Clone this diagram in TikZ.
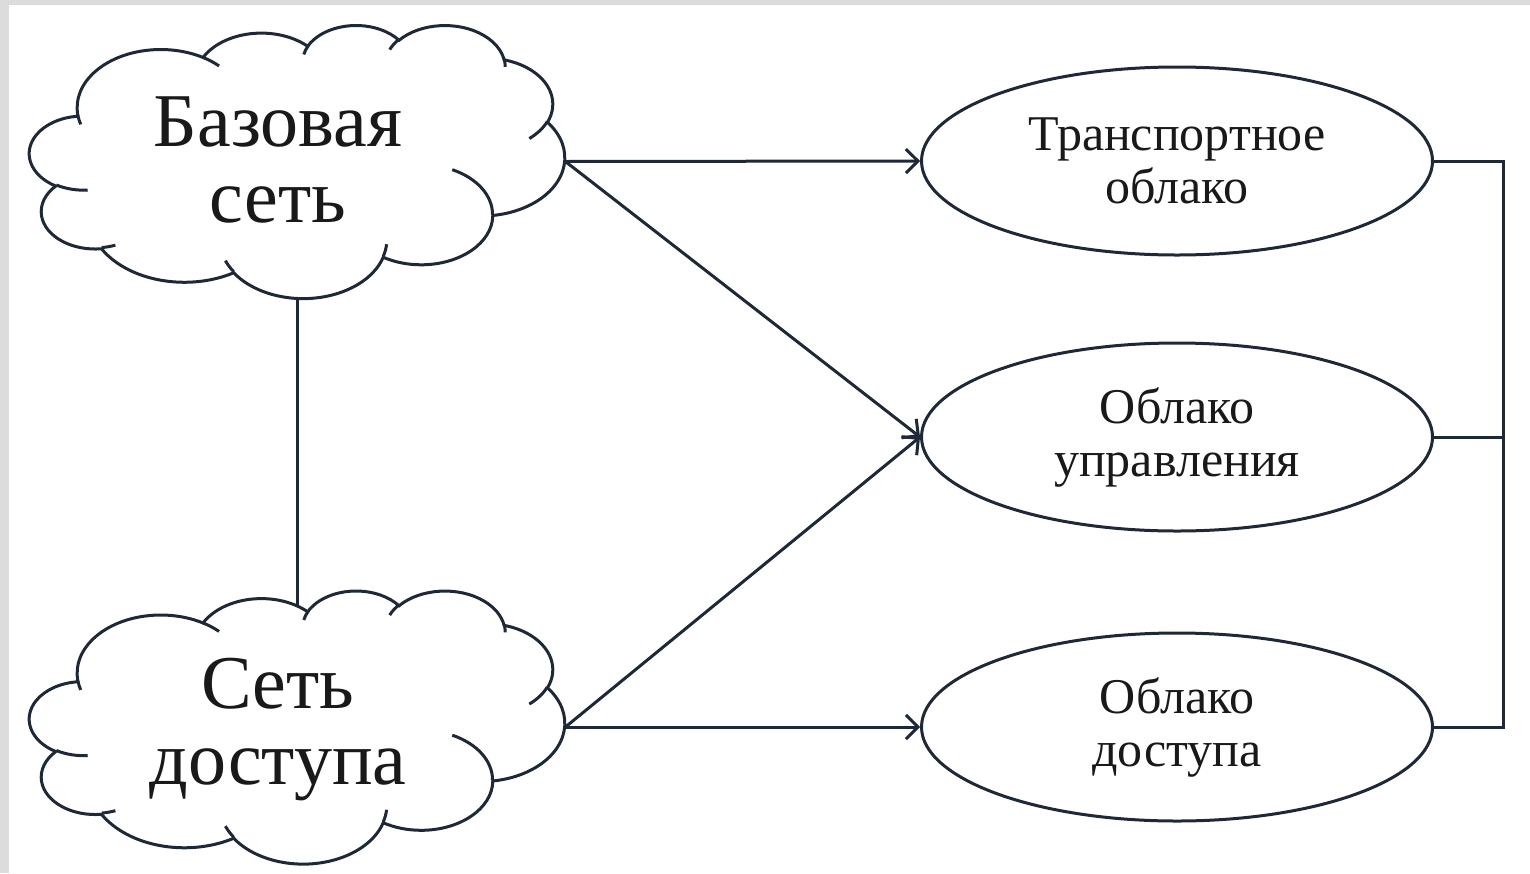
\documentclass[tikz,border=0pt]{standalone}
\usepackage{fontspec}
\setmainfont{Liberation Serif}
\usetikzlibrary{positioning, arrows.meta, shapes.geometric}

\definecolor{linecol}{HTML}{1E2836}
\definecolor{framegray}{HTML}{DCDCDC}

% parametric angle of an ellipse arc from its visual angle
\pgfmathdeclarefunction{cpar}{3}{%
  \pgfmathsetmacro\cpartmp{atan2(#1*sin(#3),#2*cos(#3))-#3}%
  \pgfmathparse{#3+mod(\cpartmp+540,360)-180}%
}
\newcommand\carc[4]{arc[x radius=#1, y radius=#2, start angle={cpar(#1,#2,#3)}, end angle={cpar(#1,#2,#3+#4)}]}

% cloud outline drawn in the box of a node
\newcommand\officecloud[1]{%
  \begin{scope}[shift={(#1.north west)}, x=0.6192pt, y=-0.316pt]
    \draw[cloudline, fill=white] (39.00,143.70)
      \carc{67.53}{91.90}{-190.4875}{123.7805}
      \carc{53.33}{72.67}{-144.1024}{89.9452}
      \carc{43.65}{59.45}{-145.8079}{99.7230}
      \carc{48.57}{65.95}{-130.9861}{117.2417}
      \carc{53.33}{72.73}{-78.7089}{109.0269}
      \carc{67.75}{92.20}{-46.2673}{130.2690}
      \carc{57.85}{78.67}{0.6250}{114.0333}
      \carc{67.52}{92.15}{22.4516}{115.1726}
      \carc{77.20}{105.43}{66.2426}{75.7110}
      \carc{43.60}{59.18}{-274.9421}{146.7356}
      \carc{43.45}{59.45}{-246.8285}{152.5189} -- cycle;
    \draw[cloudline]
      (46.93,261.77) \carc{43.45}{59.45}{86.7420}{26.4295}
      (69.28,348.99) \carc{43.60}{59.18}{73.6105}{11.4475}
      (164.78,390.90) \carc{67.52}{92.15}{137.6242}{14.0811}
      (288.27,347.51) \carc{67.52}{92.15}{6.4533}{15.9984}
      (341.29,229.54) \carc{57.85}{78.67}{-70.2924}{70.9174}
      (417.98,153.54) \carc{53.33}{72.73}{30.3180}{27.7515}
      (383.24,54.26) \carc{48.57}{65.95}{-13.7443}{14.8589}
      (290.78,39.52) \carc{48.57}{65.95}{-149.1815}{18.1954}
      (221.41,47.20) \carc{43.65}{59.45}{-163.4943}{17.6864}
      (140.00,51.92) \carc{67.53}{91.90}{-66.7070}{12.3194}
      (41.27,157.89) \carc{67.53}{91.90}{157.6544}{11.8582};
  \end{scope}}

\begin{document}
\begin{tikzpicture}[
    x=0.5pt, y=-0.5pt,
    % Styles
    cloudbox/.style={rectangle, minimum width=267.5pt, minimum height=136.5pt, inner sep=0pt},
    cloudline/.style={draw=linecol, line width=1.5pt},
    cloudtext/.style={align=center, font=\fontsize{38}{38}\selectfont, text=black!90},
    oval/.style={ellipse, draw=linecol, line width=1.5pt, fill=white, minimum width=255.5pt, minimum height=94pt, inner sep=0pt, align=center, font=\fontsize{25}{26.5}\selectfont, text=black!90},
    arrow/.style={-{Straight Barb[length=6pt, width=12pt]}, linecol, line width=1.5pt},
    link/.style={linecol, line width=1.5pt},
]

% Frame
\useasboundingbox (0,0) rectangle (1530,873);
\fill[framegray] (0,0) rectangle (1530,5);
\fill[framegray] (0,0) rectangle (9,873);

% Clouds (left)
\node[cloudbox] (base) at (297.5,161.5) {};
\officecloud{base}
\node[cloudtext] (basetext) at (278,160) {Базовая\\сеть};

\node[cloudbox] (access) at (297.5,727) {};
\officecloud{access}
\node[cloudtext] (accesstext) at (278,730) {Сеть\\доступа};

\draw[link] (base.south) -- ([yshift=-8pt]access.north);

% Clouds (right)
\node[oval] (transport) at (1177,161) {Транспортное\\облако};
\node[oval] (control) at (1177,437) {Облако\\управления};
\node[oval] (accesscl) at (1177,727) {Облако\\доступа};

\draw[arrow] (base.east) -- (transport.west);
\draw[arrow] (base.east) -- (control.west);
\draw[arrow] (access.east) -- (control.west);
\draw[arrow] (access.east) -- (accesscl.west);

% Bracket on the right
\coordinate (bend) at (1503,161);
\draw[link] (transport.east) -- (bend) |- (accesscl.east);
\draw[link] (control.east) -- (control.east -| bend);

\end{tikzpicture}
\end{document}
